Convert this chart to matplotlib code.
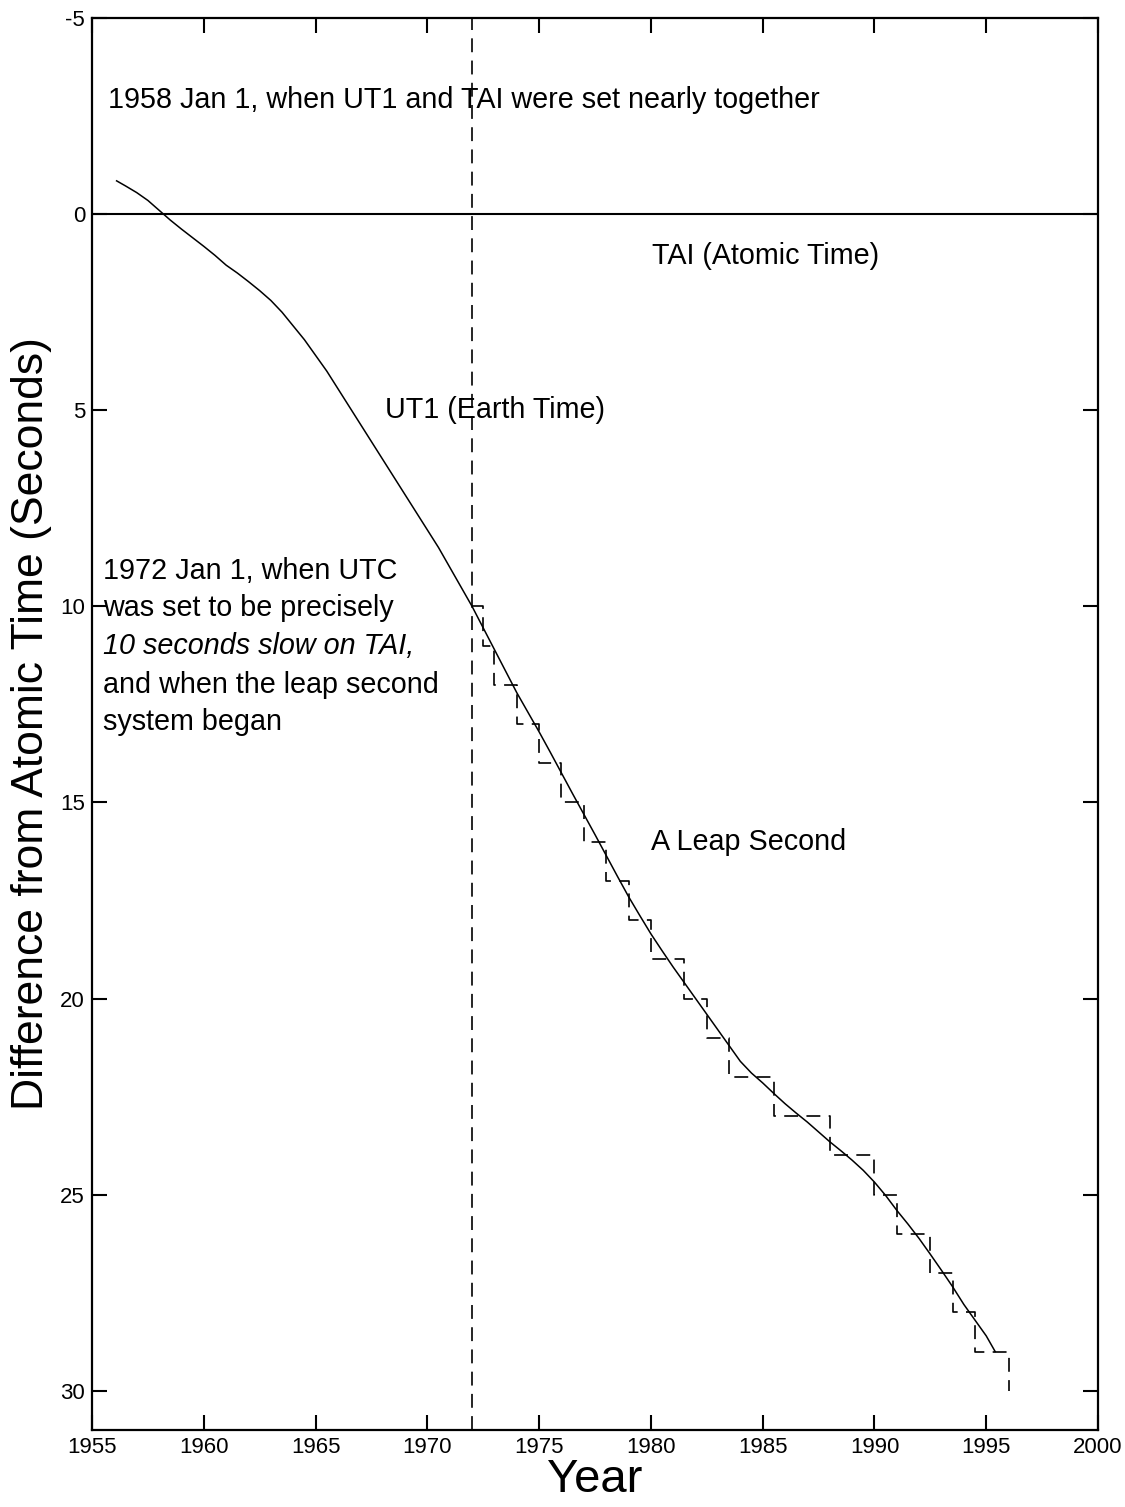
import matplotlib.pyplot as plt

plt.rcParams['font.family'] = ['Liberation Sans', 'DejaVu Sans']
plt.rcParams['lines.scale_dashes'] = False
plt.rcParams['axes.unicode_minus'] = False

# UT1 (Earth time) minus atomic time
ut1_years = [1956.1, 1956.5, 1957.0, 1957.5, 1958.0, 1958.5, 1959.0, 1959.5,
             1960.0, 1960.5, 1961.0, 1961.5, 1962.0, 1962.5, 1963.0, 1963.5,
             1964.0, 1964.5, 1965.0, 1965.5, 1966.0, 1966.5, 1967.0, 1967.5,
             1968.0, 1968.5, 1969.0, 1969.5, 1970.0, 1970.5, 1971.0, 1971.5,
             1972.0, 1972.5, 1973.0, 1973.5, 1974.0, 1974.5, 1975.0, 1975.5,
             1976.0, 1976.5, 1977.0, 1977.5, 1978.0, 1978.5, 1979.0, 1979.5,
             1980.0, 1980.5, 1981.0, 1981.5, 1982.0, 1982.5, 1983.0, 1983.5,
             1984.0, 1984.5, 1985.0, 1985.5, 1986.0, 1986.5, 1987.0, 1987.5,
             1988.0, 1988.5, 1989.0, 1989.5, 1990.0, 1990.5, 1991.0, 1991.5,
             1992.0, 1992.5, 1993.0, 1993.5, 1994.0, 1994.5, 1995.0, 1995.4]
ut1_diff = [-0.85, -0.72, -0.55, -0.35, -0.1, 0.15, 0.38, 0.6,
            0.82, 1.05, 1.3, 1.5, 1.72, 1.95, 2.2, 2.5,
            2.85, 3.2, 3.6, 4.0, 4.45, 4.9, 5.35, 5.8,
            6.25, 6.7, 7.15, 7.6, 8.05, 8.5, 9.0, 9.5,
            10.0, 10.55, 11.1, 11.65, 12.2, 12.7, 13.2, 13.72,
            14.25, 14.78, 15.3, 15.82, 16.35, 16.88, 17.4, 17.88,
            18.35, 18.78, 19.2, 19.6, 20.0, 20.4, 20.8, 21.2,
            21.6, 21.9, 22.15, 22.42, 22.68, 22.92, 23.15, 23.4,
            23.65, 23.88, 24.12, 24.38, 24.68, 25.02, 25.4, 25.75,
            26.12, 26.52, 26.93, 27.35, 27.8, 28.2, 28.6, 29.0]

# UTC steps (leap seconds)
utc_years = [1972.0, 1972.5, 1973.0, 1974.0, 1975.0, 1976.0, 1977.0, 1978.0,
             1979.0, 1980.0, 1981.5, 1982.5, 1983.5, 1985.5, 1988.0, 1990.0,
             1991.0, 1992.5, 1993.5, 1994.5, 1996.0]
utc_diff = [10, 11, 12, 13, 14, 15, 16, 17, 18, 19, 20, 21, 22, 23, 24, 25,
            26, 27, 28, 29, 30]

x_ticks = list(range(1955, 2001, 5))
y_ticks = list(range(-5, 31, 5))

fig = plt.figure(figsize=(11.25, 15.07), dpi=100)
ax = fig.add_axes([0.0818, 0.0511, 0.8942, 0.9369])

ax.axhline(0, color='black', lw=1.5)
ax.axvline(1972, color='black', lw=1.2, dashes=(10, 6))
ax.plot(ut1_years, ut1_diff, color='black', lw=1.1)
ax.plot(utc_years, utc_diff, color='black', lw=1.2, dashes=(10, 6),
        drawstyle='steps-post')

ax.set_xlim(1955, 2000)
ax.set_ylim(31, -5)
ax.set_xticks(x_ticks)
ax.set_yticks(y_ticks)

ax.tick_params(direction='in', length=11, width=1.5, top=True, right=True,
               labelsize=16, pad=5)
for s in ax.spines.values():
    s.set_linewidth(1.6)

ax.set_xlabel('Year', fontsize=34, labelpad=0)
ax.set_ylabel('Difference from Atomic Time (Seconds)', fontsize=32,
              labelpad=6)

fs = 20.7
ax.text(1955.7, -2.9, '1958 Jan 1, when UT1 and TAI were set nearly together',
        fontsize=fs, va='center', ha='left')
ax.text(1980.05, 1.07, 'TAI (Atomic Time)', fontsize=fs, va='center')
ax.text(1968.1, 5.0, 'UT1 (Earth Time)', fontsize=fs, va='center')
ax.text(1980.0, 16.0, 'A Leap Second', fontsize=fs, va='center')

note_lines = ['1972 Jan 1, when UTC', 'was set to be precisely',
              '10 seconds slow on TAI,', 'and when the leap second',
              'system began']
note_y = [9.1, 10.05, 11.0, 12.0, 12.95]
for i, (line, yy) in enumerate(zip(note_lines, note_y)):
    ax.text(1955.5, yy, line, fontsize=fs, va='center',
            style='italic' if i == 2 else 'normal')

fig.savefig('out.png', dpi=100)
